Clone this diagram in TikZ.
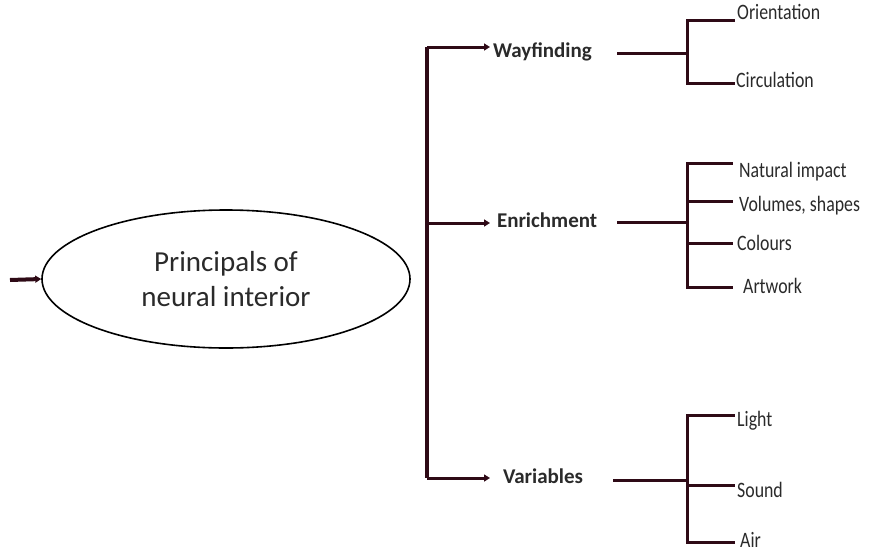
\documentclass[tikz,border=0pt]{standalone}
\usepackage{fontspec}
\setmainfont{Carlito}
\newfontfamily\condfont[FakeStretch=0.81]{Carlito}
\usetikzlibrary{arrows.meta,shapes.geometric}
\definecolor{maroon}{HTML}{2E0A16}
\definecolor{txt}{HTML}{2A2A2A}
\begin{document}
\begin{tikzpicture}[x=1pt,y=-1pt,
  conn/.style={draw=maroon,line width=3pt},
  trunkline/.style={draw=maroon,line width=4pt},
  arr/.style={draw=maroon,line width=3pt,-{Triangle[length=6pt,width=7pt]}},
  head/.style={anchor=base west,inner sep=0pt,font=\bfseries\fontsize{21}{25}\selectfont,text=txt},
  leaf/.style={anchor=base west,inner sep=0pt,font=\condfont\fontsize{22}{26}\selectfont,text=txt},
  oval/.style={ellipse,draw=black,line width=1.6pt,minimum width=368pt,minimum height=138pt,inner sep=0pt,align=center,text=txt,font=\fontsize{29}{35}\selectfont}]
\useasboundingbox (0,0) rectangle (873,552);
% main ellipse
\node[oval] (main) at (226,279) {Principals of\\neural interior};
\coordinate (in) at (10,280);
\draw[arr,line width=4pt] (in) -- (main.west);
% trunk
\coordinate (ttop) at (427,47);
\coordinate (tmid) at (427,223);
\coordinate (tbot) at (427,478);
\node[head,outer xsep=3pt] (way) at (490,57) {Wayfinding};
\node[head,outer xsep=7pt] (enr) at (490,227) {Enrichment};
\node[head,outer xsep=13pt] (var) at (490,483) {Variables};
\draw[trunkline] (ttop) -- (tbot);
\draw[arr] (ttop) -- (ttop -| way.west);
\draw[arr] (tmid) -- (tmid -| enr.west);
\draw[arr] (tbot) -- (tbot -| var.west);
% Wayfinding branch
\coordinate (w0) at (617,53);
\coordinate (wj) at (687,53);
\coordinate (wa) at (735,20);
\coordinate (wb) at (735,83);
\draw[conn] (w0) -- (wj);
\draw[conn] (wj) |- (wa);
\draw[conn] (wj) |- (wb);
\node[leaf] (ori) at (737,19) {Orientation};
\node[leaf] (cir) at (736,87) {Circulation};
% Enrichment branch
\coordinate (e0) at (617,222);
\coordinate (ej) at (687,222);
\coordinate (ea) at (733,163);
\coordinate (eb) at (733,201);
\coordinate (ec) at (733,243);
\coordinate (ed) at (733,287);
\draw[conn] (e0) -- (ej);
\draw[conn] (ej) |- (ea);
\draw[conn] (ej) |- (ed);
\draw[conn] (ej |- eb) -- (eb);
\draw[conn] (ej |- ec) -- (ec);
\node[leaf] (nat) at (739,177) {Natural impact};
\node[leaf] (vol) at (739,211) {Volumes, shapes};
\node[leaf] (col) at (737,250) {Colours};
\node[leaf] (art) at (743,293) {Artwork};
% Variables branch
\coordinate (v0) at (613,480);
\coordinate (vj) at (687,480);
\coordinate (va) at (735,415);
\coordinate (vb) at (735,485);
\coordinate (vc) at (735,542);
\draw[conn] (v0) -- (vj);
\draw[conn] (vj) |- (va);
\draw[conn] (vj) |- (vc);
\draw[conn] (vj |- vb) -- (vb);
\node[leaf] (lig) at (737,426) {Light};
\node[leaf] (snd) at (737,497) {Sound};
\node[leaf] (air) at (740,547) {Air};
\end{tikzpicture}
\end{document}
